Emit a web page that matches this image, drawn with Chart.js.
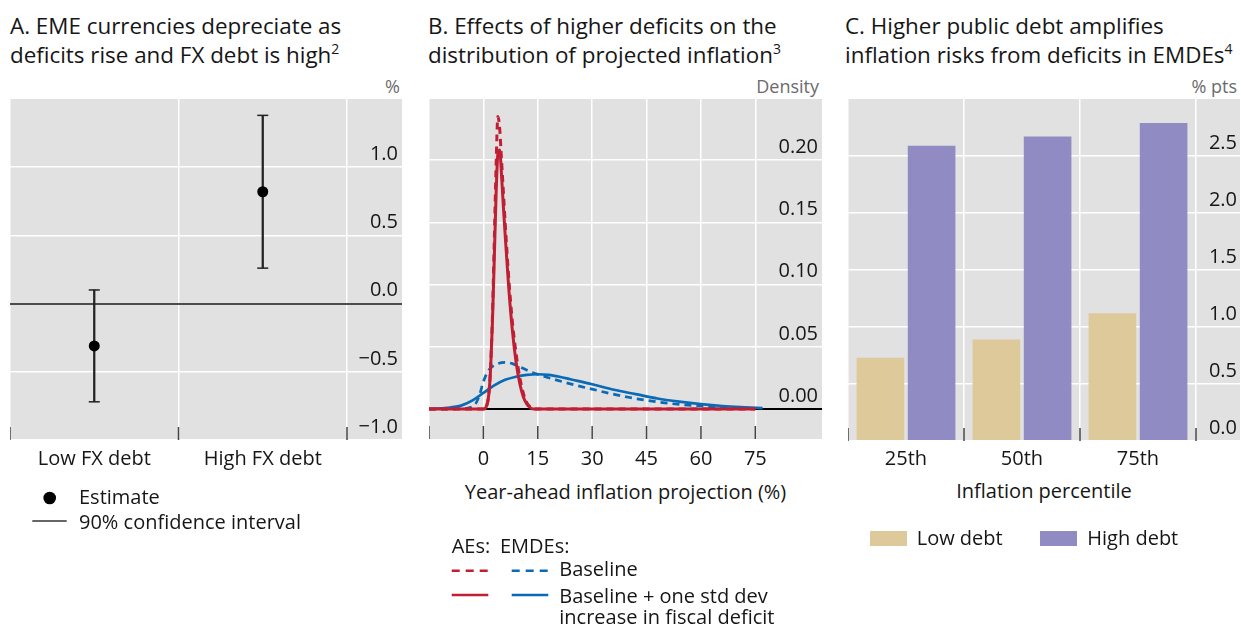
<!DOCTYPE html>
<html>
<head>
<meta charset="utf-8">
<script src="https://cdn.jsdelivr.net/npm/chart.js@4.4.1/dist/chart.umd.min.js"></script>
<style>
  body { margin: 0; width: 1241px; height: 628px; background: #fff; position: relative; overflow: hidden;
         font-family: 'Open Sans', sans-serif; color: #161616; }
  .t { position: absolute; white-space: nowrap; }
  .title { font-size: 22.4px; line-height: 29px; top: 11px; }
  .title sup { font-size: 14px; line-height: 0; position: relative; top: -1px; }
  .unit { font-size: 18px; line-height: 18px; color: #6b6b6b; top: 77px; }
  .lbl { font-size: 20px; line-height: 20px; }
  .panel { position: absolute; top: 99px; height: 372px; }
  .key { position: absolute; width: 37px; height: 15px; top: 531px; }
  svg { position: absolute; left: 0; top: 0; pointer-events: none; }
</style>
</head>
<body>

<div class="t title" style="left:10px">A. EME currencies depreciate as<br>deficits rise and FX debt is high<sup>2</sup></div>
<div class="t title" style="left:428px">B. Effects of higher deficits on the<br>distribution of projected inflation<sup>3</sup></div>
<div class="t title" style="left:845px">C. Higher public debt amplifies<br>inflation risks from deficits in EMDEs<sup>4</sup></div>

<div class="t unit" style="right:841px">%</div>
<div class="t unit" style="right:422px">Density</div>
<div class="t unit" style="right:4px">% pts</div>

<div class="panel" style="left:10px;width:392px"><canvas id="chartA"></canvas></div>
<div class="panel" style="left:429px;width:393px"><canvas id="chartB"></canvas></div>
<div class="panel" style="left:848px;width:392px"><canvas id="chartC"></canvas></div>

<!-- axis titles -->
<div class="t lbl" style="left:429px;width:393px;text-align:center;top:482px">Year-ahead inflation projection (%)</div>
<div class="t lbl" style="left:848px;width:392px;text-align:center;top:481px">Inflation percentile</div>

<!-- legends -->
<svg width="1241" height="628">
  <circle cx="49.7" cy="498" r="6.3" fill="#000"/>
  <line x1="32.3" y1="521" x2="66.7" y2="521" stroke="#333" stroke-width="1.5"/>
  <line x1="451.7" y1="570.7" x2="488.3" y2="570.7" stroke="#c01f33" stroke-width="2.5" stroke-dasharray="8 6"/>
  <line x1="511.7" y1="570.7" x2="548.3" y2="570.7" stroke="#0a6ab5" stroke-width="2.5" stroke-dasharray="8 6"/>
  <line x1="451.7" y1="595" x2="488.3" y2="595" stroke="#c01f33" stroke-width="2.5"/>
  <line x1="511.7" y1="595" x2="548.3" y2="595" stroke="#0a6ab5" stroke-width="2.5"/>
</svg>
<div class="t lbl" style="left:79px;top:486.5px">Estimate</div>
<div class="t lbl" style="left:79px;top:511.5px">90% confidence interval</div>
<div class="t lbl" style="left:451.7px;top:535.5px">AEs:</div>
<div class="t lbl" style="left:500px;top:535.5px">EMDEs:</div>
<div class="t lbl" style="left:559.3px;top:559px">Baseline</div>
<div class="t lbl" style="left:559.3px;top:585.5px">Baseline + one std dev</div>
<div class="t lbl" style="left:559.3px;top:606.5px">increase in fiscal deficit</div>
<div class="key" style="left:870px;background:#dec99a"></div>
<div class="t lbl" style="left:916.7px;top:528px">Low debt</div>
<div class="key" style="left:1040px;background:#918bc4"></div>
<div class="t lbl" style="left:1087.3px;top:528px">High debt</div>

<script>
// ─── Data ─────────────────────────────────────────────────
// Panel A: exchange-rate response, % (estimate and 90% CI)
const fxCats  = ['Low FX debt', 'High FX debt'];
const fxEst   = [-0.31, 0.82];
const fxLo    = [-0.72, 0.26];
const fxHi    = [0.10, 1.38];
const fxTicks = [-1.0, -0.5, 0.0, 0.5, 1.0];

// Panel B: density of year-ahead inflation projection
const infTicks  = [-15, 0, 15, 30, 45, 60, 75];
const densTicks = [0, 0.05, 0.10, 0.15, 0.20];
const aeX     = [-15, 0, 0.8, 1.5, 2, 2.5, 3, 3.5, 4, 4.5, 5, 5.5, 6, 7, 8, 9, 10, 11, 12, 13, 14, 75];
const aeBase  = [0, 0, 0.002, 0.012, 0.035, 0.075, 0.135, 0.195, 0.235, 0.225, 0.2, 0.175, 0.15, 0.105, 0.07, 0.045, 0.026, 0.013, 0.005, 0.0015, 0, 0];
const aeShock = [0, 0, 0.002, 0.012, 0.033, 0.07, 0.12, 0.172, 0.205, 0.208, 0.188, 0.163, 0.14, 0.097, 0.063, 0.038, 0.021, 0.01, 0.004, 0.001, 0, 0];
const emBaseX = [-15, -5, -3, -2, -1, 0, 1, 2, 4, 6, 8, 10, 13, 16, 20, 25, 30, 35, 40, 45, 50, 55, 60, 65, 70, 75];
const emBase  = [0, 0.0005, 0.002, 0.005, 0.012, 0.022, 0.029, 0.033, 0.0365, 0.0375, 0.0365, 0.034, 0.03, 0.027, 0.0235, 0.0195, 0.016, 0.0125, 0.0095, 0.007, 0.005, 0.0035, 0.0025, 0.0015, 0.001, 0.0006];
const emShockX = [-15, -10, -6, -3, 0, 3, 6, 9, 12, 15, 18, 21, 24, 30, 36, 42, 48, 54, 60, 66, 72, 77];
const emShock  = [0.0003, 0.001, 0.003, 0.007, 0.013, 0.019, 0.0235, 0.026, 0.0275, 0.028, 0.0275, 0.026, 0.024, 0.02, 0.0155, 0.012, 0.0085, 0.006, 0.004, 0.0025, 0.0015, 0.0008];

// Panel C: inflation response by percentile, % pts
const pctCats  = ['25th', '50th', '75th'];
const lowDebt  = [0.73, 0.89, 1.12];
const highDebt = [2.59, 2.67, 2.79];
const ptsTicks = [0, 0.5, 1.0, 1.5, 2.0, 2.5];

const RED = '#c01f33';
const BLUE = '#0a6ab5';

Chart.defaults.font.family = "'Open Sans', sans-serif";
Chart.defaults.font.size = 20;
Chart.defaults.color = '#161616';
Chart.defaults.animation = false;

// grey plot panel, running on under the right-hand tick labels
const plotBg = {
  id: 'plotBg',
  beforeDraw(chart) {
    const { ctx, chartArea: a } = chart;
    ctx.save();
    ctx.fillStyle = '#e1e1e1';
    ctx.fillRect(a.left, a.top, chart.width - a.left, a.bottom - a.top);
    ctx.restore();
  },
};

// short tick marks pointing up from the bottom edge
const innerTicks = {
  id: 'innerTicks',
  afterDatasetsDraw(chart, args, opts) {
    if (!opts.values) return;
    const { ctx, chartArea: a, scales: { x } } = chart;
    ctx.save();
    ctx.strokeStyle = '#444';
    ctx.lineWidth = 1.5;
    opts.values.forEach(v => {
      const px = x.getPixelForValue(v);
      ctx.beginPath();
      ctx.moveTo(px, a.bottom - 13);
      ctx.lineTo(px, a.bottom);
      ctx.stroke();
    });
    ctx.restore();
  },
};

Chart.register(plotBg, innerTicks);

const fmt = (v, d) => v.toFixed(d).replace('-', '\u2212');

function rightAxis(min, max, ticks, digits, width, tickLen, zeroColor) {
  return {
    position: 'right',
    min, max,
    afterBuildTicks: s => { s.ticks = ticks.map(v => ({ value: v })); },
    afterFit: s => { s.width = width; s.paddingTop = 0; s.paddingBottom = 0; },
    border: { display: false },
    grid: {
      color: c => (c.tick && c.tick.value === 0 ? zeroColor : '#fff'),
      lineWidth: c => (c.tick && c.tick.value === 0 ? 2 : 1.5),
      drawTicks: true,
      tickLength: tickLen,
    },
    ticks: { crossAlign: 'far', padding: 0, labelOffset: -13, callback: v => fmt(v, digits) },
  };
}

function bottomAxis(pad) {
  return {
    afterFit: s => { s.height = 24 + pad; s.paddingLeft = 0; s.paddingRight = 0; },
    border: { display: false },
    grid: { color: '#fff', lineWidth: 1.5, drawTicks: false },
    ticks: { padding: pad, maxRotation: 0, autoSkip: false },
  };
}

const baseOptions = {
  responsive: true,
  maintainAspectRatio: false,
  layout: { autoPadding: false },
  plugins: { legend: { display: false }, tooltip: { enabled: false } },
};

// ─── A. FX debt estimates ─────────────────────────────────
new Chart(document.getElementById('chartA'), {
  type: 'bar',
  data: {
    labels: fxCats,
    datasets: [
      { type: 'line', data: fxEst, showLine: false, pointRadius: 5.5, pointBackgroundColor: '#000', pointBorderWidth: 0, order: 0 },
      { type: 'line', data: fxHi, showLine: false, pointStyle: 'line', pointRadius: 5.5, pointBorderColor: '#222', pointBorderWidth: 1.5, order: 1 },
      { type: 'line', data: fxLo, showLine: false, pointStyle: 'line', pointRadius: 5.5, pointBorderColor: '#222', pointBorderWidth: 1.5, order: 1 },
      { data: fxCats.map((_, i) => [fxLo[i], fxHi[i]]), backgroundColor: '#222', barThickness: 1.6, order: 2 },
    ],
  },
  options: {
    ...baseOptions,
    layout: { autoPadding: false, padding: { right: 4 } },
    plugins: { ...baseOptions.plugins, innerTicks: { values: [-0.5, 0.5, 1.5] } },
    scales: {
      x: bottomAxis(7),
      y: rightAxis(-1, 1.5, fxTicks, 1, 51, 55, '#4d4d4d'),
    },
  },
});

// ─── B. Inflation densities ───────────────────────────────
const pairs = (xs, ys) => xs.map((x, i) => ({ x, y: ys[i] }));
const curve = (data, color, dash, width, order) => ({
  data, borderColor: color, borderWidth: width, borderDash: dash, showLine: true,
  pointRadius: 0, cubicInterpolationMode: 'monotone', order,
});

new Chart(document.getElementById('chartB'), {
  type: 'scatter',
  data: {
    datasets: [
      curve(pairs(aeX, aeShock), RED, [], 3, 0),
      curve(pairs(aeX, aeBase), RED, [7, 5], 3, 1),
      curve(pairs(emShockX, emShock), BLUE, [], 2.7, 2),
      curve(pairs(emBaseX, emBase), BLUE, [7, 5], 2.7, 3),
    ],
  },
  options: {
    ...baseOptions,
    layout: { autoPadding: false, padding: { right: 4 } },
    plugins: { ...baseOptions.plugins, innerTicks: { values: infTicks } },
    scales: {
      x: {
        ...bottomAxis(8),
        type: 'linear',
        min: -15, max: 80.7,
        afterBuildTicks: s => { s.ticks = infTicks.map(v => ({ value: v })); },
        ticks: { padding: 8, maxRotation: 0, callback: v => (v < 0 ? '' : v) },
      },
      y: rightAxis(-0.024, 0.249, densTicks, 2, 42, 46, '#000'),
    },
  },
});

// ─── C. Debt and inflation percentiles ────────────────────
new Chart(document.getElementById('chartC'), {
  type: 'bar',
  data: {
    labels: pctCats,
    datasets: [
      { data: lowDebt, backgroundColor: '#dec99a', categoryPercentage: 0.883, barPercentage: 0.93 },
      { data: highDebt, backgroundColor: '#918bc4', categoryPercentage: 0.883, barPercentage: 0.93 },
    ],
  },
  options: {
    ...baseOptions,
    layout: { autoPadding: false, padding: { right: 3 } },
    plugins: { ...baseOptions.plugins, innerTicks: { values: [-0.5, 0.5, 1.5, 2.5] } },
    scales: {
      x: bottomAxis(6),
      y: rightAxis(0, 3, ptsTicks, 1, 41, 44, '#fff'),
    },
  },
});
</script>
</body>
</html>
